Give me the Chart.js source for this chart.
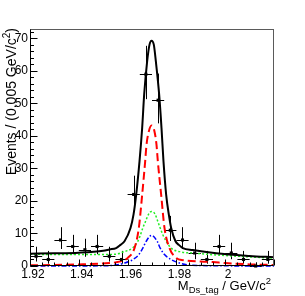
<!DOCTYPE html>
<html lang="en">
<head>
<meta charset="UTF-8">
<title>M Ds_tag fit</title>
<script src="https://cdn.jsdelivr.net/npm/chart.js"></script>
<style>
  html, body { margin: 0; padding: 0; background: #fff; }
  #wrap { width: 305px; height: 296px; }
</style>
</head>
<body>
<div id="wrap"><canvas id="fit" width="305" height="296"></canvas></div>
<script>
// binned data, bin width 0.005 GeV/c2
const binCenters = [1.9225, 1.9275, 1.9325, 1.9375, 1.9425, 1.9475, 1.9525, 1.9575, 1.9625, 1.9675,
                    1.9725, 1.9775, 1.9825, 1.9875, 1.9925, 1.9975, 2.0025, 2.0075, 2.0125, 2.0175];
const counts  = [3, 2, 8, 6, 5, 6, 3, 2, 22, 59, 51, 11, 8, 4, 2, 6, 4, 2, 0, 2];
const errLow  = [1.37, 0.71, 5.23, 3.62, 2.84, 3.62, 1.37, 0.71, 17.29, 51.32, 43.87, 7.70, 5.23, 2.09, 0.71, 3.62, 2.09, 0.71, 0, 0.71];
const errHigh = [5.92, 4.64, 11.94, 9.58, 8.38, 9.58, 5.92, 4.64, 27.78, 67.73, 59.19, 15.42, 11.94, 7.16, 4.64, 9.58, 7.16, 4.64, 1.15, 4.64];
const binHalfWidth = 0.0025;

// fit curves
const totalX = [1.92, 1.93, 1.94, 1.95, 1.9526, 1.9553, 1.9571, 1.95873, 1.96119, 1.96242, 1.96351, 1.96488, 1.96597, 1.96679, 1.96802, 1.96898,
                1.9698, 1.97074, 1.97157, 1.97294, 1.97389, 1.97471, 1.97581, 1.9769, 1.97786, 1.97963, 1.98099, 1.98264, 1.9867, 1.9963, 2.01, 2.02];
const totalY = [3.8, 3.9, 4.1, 4.7, 5.1, 5.5, 6.5, 7.6, 11.7, 15.8, 21.9, 32.2, 42.5, 52.7, 63.0, 68.1,
                69.3, 68.1, 63.0, 52.7, 42.5, 32.2, 21.9, 15.8, 11.7, 7.6, 6.5, 5.5, 4.9, 3.9, 3.1, 2.7];

const signalX = [1.92, 1.93, 1.94, 1.95, 1.955, 1.958, 1.96008, 1.96283, 1.9646, 1.96597, 1.9672, 1.96775, 1.96869,
                 1.9698, 1.97102, 1.97184, 1.97239, 1.97376, 1.97512, 1.97717, 1.97992, 1.983, 1.99, 1.995, 2.0, 2.01, 2.02];
const signalY = [0.2, 0.3, 0.5, 0.8, 1.1, 1.6, 2.5, 5.5, 11.7, 21.9, 32.2, 37.3, 41.4,
                 43.2, 41.4, 37.3, 32.2, 21.9, 11.7, 5.5, 2.5, 1.8, 1.4, 1.2, 0.9, 0.5, 0.3];

const bkgX = [1.92, 1.94, 1.955, 1.95803, 1.96189, 1.96418, 1.96529, 1.96623, 1.96734, 1.96857, 1.9698,
              1.9713, 1.97238, 1.97336, 1.97443, 1.97582, 1.97787, 1.98197, 1.9867, 1.9963, 2.01, 2.02];
const bkgY = [3.6, 3.5, 3.6, 4.3, 5.5, 7.6, 9.6, 11.7, 13.7, 15.9, 16.8,
              15.9, 13.7, 11.7, 9.6, 7.6, 5.5, 4.3, 4.0, 3.4, 2.8, 2.4];

const peakX = [1.92, 1.95, 1.955, 1.95873, 1.96213, 1.9646, 1.96623, 1.96762, 1.9698, 1.97213, 1.97336, 1.97512, 1.97787, 1.98127, 1.985, 2.0, 2.02];
const peakY = [0, 0.05, 0.3, 0.9, 1.95, 3.5, 5.5, 7.6, 9.4, 7.6, 5.5, 3.5, 1.95, 0.9, 0.3, 0.05, 0];

// axes
const xTickVals = [1.92, 1.94, 1.96, 1.98, 2.0];
const xTickLabels = ['1.92', '1.94', '1.96', '1.98', '2'];
const yTickVals = [0, 10, 20, 30, 40, 50, 60, 70];
const xMin = 1.92, xMax = 2.02, yMin = 0, yMax = 72.9;

const FONT = "'Liberation Sans', Arial, Helvetica, sans-serif";

function pts(xs, ys) {
    return xs.map((x, i) => ({ x: x, y: ys[i] }));
}

function curve(label, xs, ys, color, width, dash) {
    return {
        label: label,
        data: pts(xs, ys),
        borderColor: color,
        borderWidth: width,
        borderDash: dash,
        pointRadius: 0,
        fill: false,
        cubicInterpolationMode: 'monotone',
        clip: false
    };
}

// draws text made of pieces (subscripts / superscripts)
function drawRich(ctx, parts, x, y) {
    let total = 0;
    parts.forEach(p => {
        ctx.font = p.s + 'px ' + FONT;
        p.w = ctx.measureText(p.t).width;
        total += p.w;
    });
    let cx = x - total;
    parts.forEach(p => {
        ctx.font = p.s + 'px ' + FONT;
        ctx.fillText(p.t, cx, y + p.dy);
        cx += p.w;
    });
}

const rootStyle = {
    id: 'rootStyle',
    beforeDatasetsDraw(chart) {
        const ctx = chart.ctx;
        const xs = chart.scales.x, ys = chart.scales.y;
        ctx.save();
        ctx.strokeStyle = '#000';
        ctx.lineWidth = 1;
        binCenters.forEach((b, i) => {
            const px = Math.round(xs.getPixelForValue(b)) + 0.5;
            const py = Math.round(ys.getPixelForValue(counts[i])) + 0.5;
            ctx.beginPath();
            ctx.moveTo(px, ys.getPixelForValue(errLow[i]));
            ctx.lineTo(px, ys.getPixelForValue(errHigh[i]));
            ctx.moveTo(xs.getPixelForValue(b - binHalfWidth), py);
            ctx.lineTo(xs.getPixelForValue(b + binHalfWidth), py);
            ctx.stroke();
        });
        ctx.restore();
    },
    afterDraw(chart) {
        const ctx = chart.ctx;
        const a = chart.chartArea;
        const xs = chart.scales.x, ys = chart.scales.y;
        const L = Math.round(a.left) + 0.5, R = Math.round(a.right) - 0.5;
        const T = Math.round(a.top) + 0.5, B = Math.round(a.bottom) - 0.5;
        ctx.save();
        ctx.lineWidth = 1;
        // frame
        ctx.strokeStyle = '#5a5a5a';
        ctx.strokeRect(L, T, R - L, B - T);
        ctx.strokeStyle = '#000';
        ctx.beginPath();
        ctx.moveTo(L, T); ctx.lineTo(L, B); ctx.lineTo(R, B);
        ctx.stroke();
        // y ticks, inside the frame
        ctx.beginPath();
        for (let v = yMin; v <= yMax; v += 2) {
            const py = Math.round(ys.getPixelForValue(v)) + 0.5;
            const len = (v % 10 === 0) ? 7 : 3.5;
            ctx.moveTo(L, py); ctx.lineTo(L + len, py);
        }
        // x ticks
        for (let k = 0; k <= 20; k++) {
            const v = xMin + k * 0.005;
            const px = Math.round(xs.getPixelForValue(v)) + 0.5;
            const len = (k % 4 === 0) ? 6 : 3;
            ctx.moveTo(px, B); ctx.lineTo(px, B - len);
        }
        ctx.stroke();

        // axis titles
        ctx.fillStyle = '#000';
        ctx.textBaseline = 'alphabetic';
        drawRich(ctx, [
            { t: 'M', s: 13, dy: 0 },
            { t: 'Ds_tag', s: 9.5, dy: 3 },
            { t: ' / GeV/c', s: 13, dy: 0 },
            { t: '2', s: 9.5, dy: -6 }
        ], 271, 290);
        ctx.translate(15.5, 28);
        ctx.rotate(-Math.PI / 2);
        drawRich(ctx, [
            { t: 'Events / (0.005 GeV/c', s: 14, dy: 0 },
            { t: '2', s: 10, dy: -6 },
            { t: ')', s: 14, dy: 0 }
        ], 0, 0);
        ctx.restore();
    }
};

const ctx = document.getElementById('fit').getContext('2d');

const chart = new Chart(ctx, {
    type: 'line',
    data: {
        datasets: [
            {
                label: 'data',
                data: pts(binCenters, counts),
                showLine: false,
                pointStyle: 'rect',
                pointRadius: 2.2,
                backgroundColor: '#000',
                borderColor: '#000',
                borderWidth: 0,
                clip: false
            },
            curve('total', totalX, totalY, '#000000', 2, []),
            curve('signal', signalX, signalY, '#ff0000', 2, [8, 4]),
            curve('peaking', peakX, peakY, '#0000ff', 1.5, [5, 2, 1.5, 2]),
            curve('background', bkgX, bkgY, '#22ee22', 1.5, [2, 2])
        ]
    },
    options: {
        responsive: false,
        animation: false,
        devicePixelRatio: 1,
        layout: { padding: { top: 29, right: 31, left: 0, bottom: 0 } },
        plugins: {
            legend: { display: false },
            tooltip: { enabled: false },
            title: { display: false }
        },
        scales: {
            x: {
                type: 'linear',
                min: xMin,
                max: xMax,
                grid: { display: false, drawTicks: false },
                border: { display: false },
                afterBuildTicks: s => { s.ticks = xTickVals.map(v => ({ value: v })); },
                afterFit: s => { s.height = 30; },
                ticks: {
                    autoSkip: false,
                    maxRotation: 0,
                    padding: 1,
                    labelOffset: 3,
                    color: '#000',
                    font: { family: FONT, size: 12 },
                    callback: (v, i) => xTickLabels[i]
                }
            },
            y: {
                min: yMin,
                max: yMax,
                grid: { display: false, drawTicks: false },
                border: { display: false },
                afterBuildTicks: s => { s.ticks = yTickVals.map(v => ({ value: v })); },
                afterFit: s => { s.width = 30; },
                ticks: {
                    autoSkip: false,
                    padding: 2,
                    color: '#000',
                    font: { family: FONT, size: 12 }
                }
            }
        }
    },
    plugins: [rootStyle]
});
</script>
</body>
</html>
